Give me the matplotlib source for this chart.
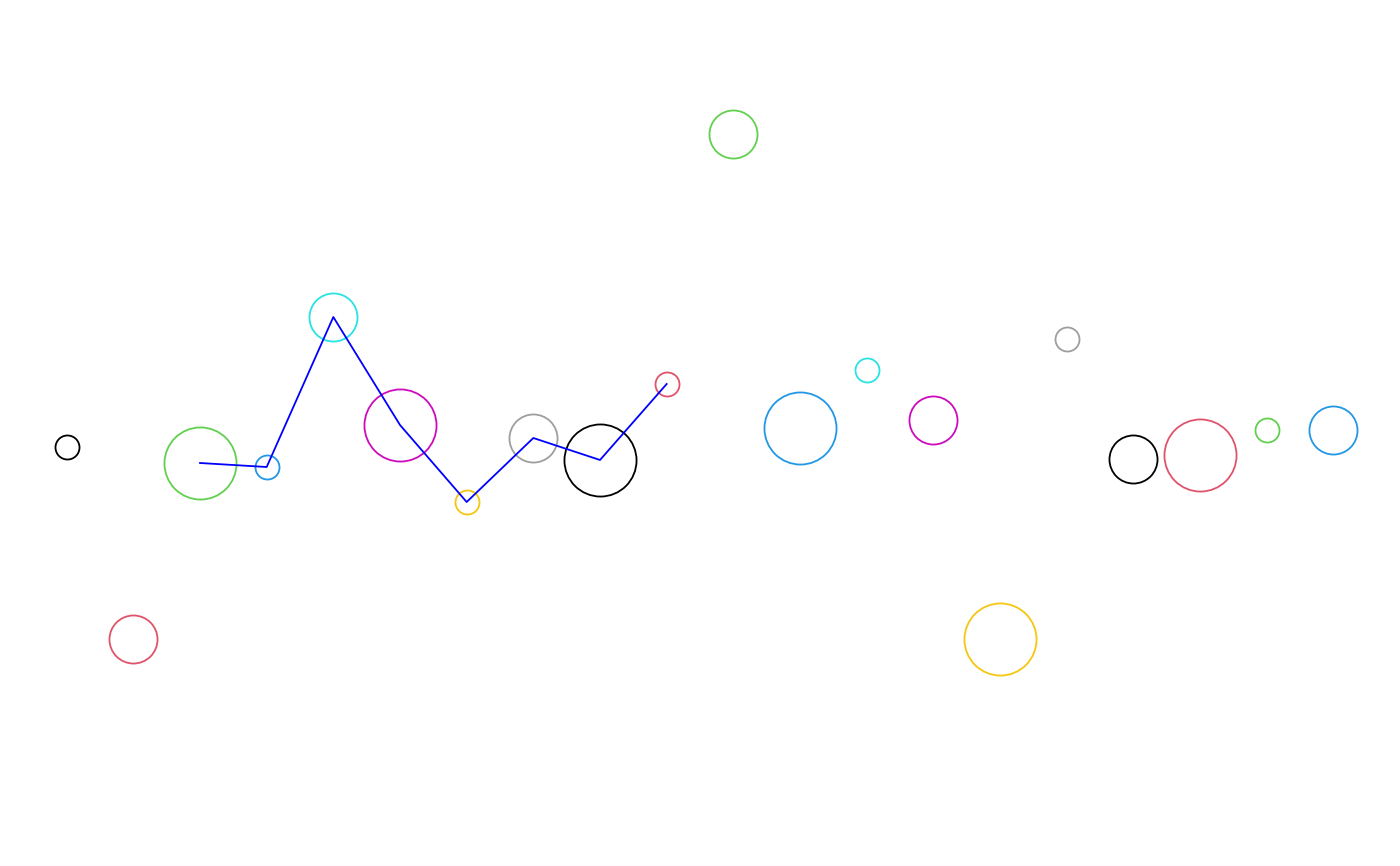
import matplotlib
matplotlib.use("Agg")
import matplotlib.pyplot as plt

x = list(range(1, 21))
y = [4.19, 2.27, 4.03, 3.99, 5.49, 4.41, 3.64, 4.28, 4.06, 4.82,
     7.32, 4.38, 4.96, 4.46, 2.27, 5.27, 4.07, 4.11, 4.36, 4.36]
cex = [1, 2, 3] * 6 + [1, 2]
palette = ["#000000", "#DF536B", "#61D04F", "#2297E6",
           "#28E2E5", "#CD0BBC", "#F5C710", "#9E9E9E"]
colors = [palette[i % 8] for i in range(20)]
line_start, line_end = 3, 10  # indices (1-based) of points joined by line

fig = plt.figure(figsize=(14, 8.66), dpi=100)
ax = fig.add_axes([0, 0, 1, 1])
ax.set_xlim(0, 21)
ax.set_ylim(0, 8.66)
ax.axis("off")

for xi, yi, c, col in zip(x, y, cex, colors):
    ax.plot([xi], [yi], marker="o", linestyle="none", markersize=17.3 * c,
            markerfacecolor="none", markeredgecolor=col, markeredgewidth=1.3)

ax.plot(x[line_start - 1:line_end], y[line_start - 1:line_end],
        color="#0000FF", linewidth=1.3)

fig.savefig("out.png", dpi=100, facecolor="white")
